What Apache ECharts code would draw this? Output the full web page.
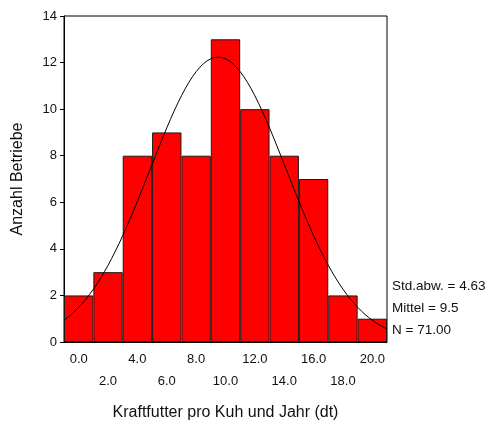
<!DOCTYPE html>
<html><head><meta charset="utf-8">
<script src="https://cdn.jsdelivr.net/npm/echarts@6/dist/echarts.min.js"></script>
<style>html,body{margin:0;padding:0;background:#fff;}#c{width:486px;height:427px;}</style>
</head><body><div id="c"></div>
<script>
const categories = ['0.0','2.0','4.0','6.0','8.0','10.0','12.0','14.0','16.0','18.0','20.0'];
const binCenters = [0,2,4,6,8,10,12,14,16,18,20];
const counts = [2,3,8,9,8,13,10,8,7,2,1];
const yTicks = [0,2,4,6,8,10,12,14];
const statsStd = 4.63, statsMean = 9.5, statsN = 71;
const binWidth = 2;

// fitted normal curve defined by the chart's stated statistics
const curve = [];
for (let i = 0; i <= 88; i++) {
  const x = -1 + i * 0.25;
  const z = (x - statsMean) / statsStd;
  curve.push([x, statsN * binWidth / (statsStd * Math.sqrt(2 * Math.PI)) * Math.exp(-0.5 * z * z)]);
}

const chart = echarts.init(document.getElementById('c'), null, {renderer: 'canvas'});
const font = 'Liberation Sans, Arial, sans-serif';
const txt = '#111';
chart.setOption({
  animation: false,
  grid: {left: 64, right: 99, top: 16, bottom: 85, show: true, borderColor: '#000', borderWidth: 1, backgroundColor: 'transparent'},
  xAxis: [{
    type: 'category', data: categories, boundaryGap: true,
    axisLine: {lineStyle: {color: '#000'}},
    axisTick: {alignWithLabel: true, length: 3, lineStyle: {color: '#000'}},
    axisLabel: {interval: 0, color: txt, fontFamily: font, fontSize: 13, margin: 6, lineHeight: 22,
      formatter: (v, i) => (i % 2 === 1 ? '\n' + v : v)},
    name: 'Kraftfutter pro Kuh und Jahr (dt)', nameLocation: 'middle', nameGap: 63,
    nameTextStyle: {color: txt, fontFamily: font, fontSize: 16}
  }, {
    type: 'value', min: -1, max: 21, show: false
  }],
  yAxis: {
    type: 'value', min: 0, max: 14, interval: 2,
    axisLine: {show: true, onZero: false, lineStyle: {color: '#000'}},
    axisTick: {show: true, length: 4, lineStyle: {color: '#000'}},
    splitLine: {show: false},
    axisLabel: {color: txt, fontFamily: font, fontSize: 13, margin: 7},
    name: 'Anzahl Betriebe', nameLocation: 'middle', nameGap: 38, nameRotate: 90,
    nameTextStyle: {color: txt, fontFamily: font, fontSize: 16}
  },
  series: [{
    type: 'bar', data: counts, barCategoryGap: '0%', xAxisIndex: 0,
    itemStyle: {color: '#ff0000', borderColor: '#1a1a1a', borderWidth: 1}
  }, {
    type: 'line', data: curve, xAxisIndex: 1, symbol: 'none', smooth: false,
    lineStyle: {color: '#000', width: 1}
  }],
  graphic: [
    {type: 'text', left: 392, top: 279, style: {text: 'Std.abw. = ' + statsStd.toFixed(2), fill: txt, font: '13.5px ' + font}},
    {type: 'text', left: 392, top: 301, style: {text: 'Mittel = ' + statsMean.toFixed(1), fill: txt, font: '13.5px ' + font}},
    {type: 'text', left: 392, top: 323, style: {text: 'N = ' + statsN.toFixed(2), fill: txt, font: '13.5px ' + font}}
  ]
});
</script></body></html>
